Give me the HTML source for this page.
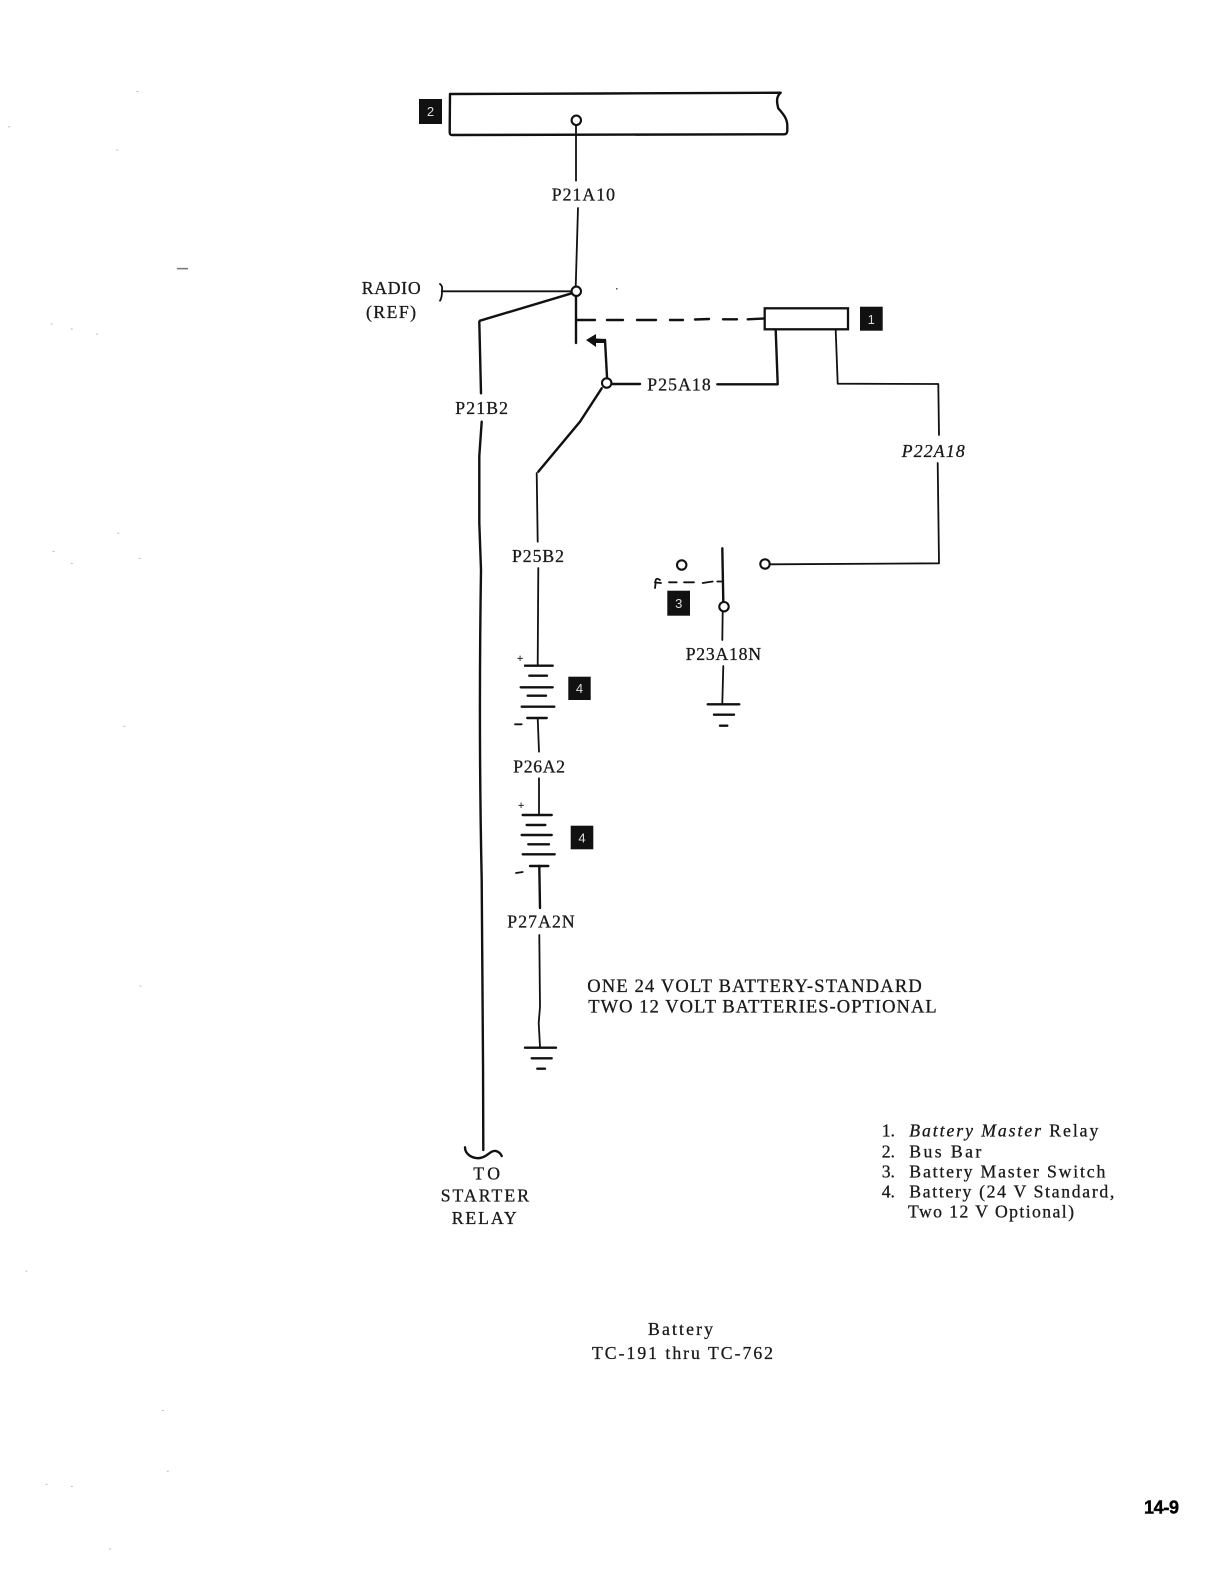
<!DOCTYPE html>
<html>
<head>
<meta charset="utf-8">
<style>
html,body{margin:0;padding:0;background:#fff}
svg{display:block}
text{font-family:"Liberation Serif",serif;font-size:17.7px;fill:#1a1a1a;stroke:#1a1a1a;stroke-width:.3px}
.w{fill:none;stroke:#111;stroke-width:1.8;stroke-linecap:round;stroke-linejoin:round}
.t{stroke-width:2.4}
.c{fill:#fff;stroke:#111;stroke-width:2.1}
.b{fill:#111}
.n{fill:#ddd;stroke:none;font-size:13px;font-family:"Liberation Sans",sans-serif;text-anchor:middle}
.m{font-size:18.5px}
</style>
</head>
<body>
<svg width="1220" height="1584" viewBox="0 0 1220 1584" xmlns="http://www.w3.org/2000/svg">
<!-- bus bar -->
<path class="w t" d="M450 94 L600 93.500 L780.700 92.700 C777 96 776 100 778.300 108.300 C783 114 787.300 118 787.300 126 L787.300 131 C787 133.500 786 134.300 784 134.300 L452 135 C450 135 449.700 134 449.700 132 Z"/>
<rect class="b" x="419" y="99" width="23" height="25"/><text class="n" x="430.500" y="116">2</text>
<path class="w" d="M576 125 L576 180.700 M578 208 L575.700 287"/>
<circle class="c" cx="576.300" cy="120.300" r="4.700"/>
<text x="551.700" y="200.700" textLength="63.300">P21A10</text>

<!-- radio -->
<text x="361.700" y="294" textLength="59">RADIO</text>
<text x="366" y="318" textLength="50">(REF)</text>
<path class="w" d="M440 284 C443 286 442 289 442 291 C442 294 442 298 440 300.700 M441.700 291.300 L571.700 291.300"/>
<path class="w t" d="M571.700 293.300 L480 320.700"/>
<path class="w t" d="M479.300 321.700 L481 393.300 M481.700 421.700 L479.300 456 L479.300 523 L481 570 C479 700 480 800 481.700 880 C482 1000 483.500 1060 483.300 1150"/>
<circle class="c" cx="576.300" cy="291.300" r="4.700"/>
<path class="w t" d="M576 296 L576 343"/>
<path class="w t" d="M576 320 L595 320 M607 320 L623 320 M637 320 L656 320 M670 320 L683 320 M695 319.500 L709 319 M723 319.300 L737 319.300 M747.700 319.300 L764 318.500"/>
<rect x="616" y="288" width="1.500" height="1.500" fill="#555"/>

<!-- relay -->
<rect x="764.700" y="308.300" width="83.300" height="21" fill="#fff" stroke="#111" stroke-width="2.300"/>
<rect class="b" x="860" y="306.700" width="22.700" height="24"/><text class="n" x="871.300" y="324">1</text>

<!-- contact arrow -->
<path class="b" d="M586 340 L596 334 L596 338.500 L606 339 L606 343 L596 343 L596 347 Z"/>
<path class="w t" d="M605 340 L607 377"/>
<circle class="c" cx="606.700" cy="383" r="4.700"/>
<path class="w t" d="M612 384 L640 384 M717.300 384.300 L777.700 384.300 L775.700 330"/>
<text x="647.300" y="390.700" textLength="63.400">P25A18</text>
<path class="w" d="M835.700 330 L837.700 383.700 L938.300 384 L939 435 M937.700 463 L939 563.300 L771 564.300"/>
<text x="901.700" y="457" textLength="63" font-style="italic">P22A18</text>
<circle class="c" cx="765" cy="564" r="4.700"/>

<!-- P21B2 label -->
<text x="455.300" y="414" textLength="52.700">P21B2</text>

<!-- P25B2 -->
<path class="w t" d="M601.700 388.300 L580 421.700 L538.300 471.700"/>
<path class="w" d="M536.700 473 L537.700 541.700 M538.300 568 L537.700 665"/>
<text x="512" y="562" textLength="52">P25B2</text>

<!-- battery 1 -->
<text x="517" y="662" style="font-size:11px">+</text>
<path class="w t" d="M525 665.700 L552.700 665.700 M529.300 675.700 L547 675.700 M520.700 687.300 L552.700 687.300 M527.700 695.700 L546 695.700 M521.700 706.700 L554.300 706.700 M527.300 718 L546.700 718"/>
<path class="w" d="M537.700 718 L539 751.700"/>
<path class="w" d="M515 724.300 L521.700 724.300"/>
<rect class="b" x="568.300" y="676.700" width="22.400" height="23.300"/><text class="n" x="579.500" y="693">4</text>
<text x="513.300" y="772.300" textLength="51.700">P26A2</text>

<!-- battery 2 -->
<path class="w" d="M539 778.300 L539 815"/>
<text x="518" y="809" style="font-size:11px">+</text>
<path class="w t" d="M522.700 815 L551.700 815 M526.700 825 L545.300 825 M521.700 835 L551.700 835 M528.300 844.300 L549 844.300 M522.700 854.300 L554.700 854.300 M530 866 L548.300 866"/>
<rect class="b" x="570.700" y="825.700" width="22.600" height="23.600"/><text class="n" x="582" y="842.500">4</text>
<path class="w" d="M516 873 L522.700 872"/>
<path class="w t" d="M539.300 866 L540 908"/>
<text x="507.300" y="927.700" textLength="67.400">P27A2N</text>
<path class="w" d="M539.300 935 L540 1006.700 L538.700 1023 L540 1046.700"/>

<!-- ground -->
<path class="w t" d="M525 1047.700 L556 1047.700 M531.700 1058.300 L551.700 1058.300 M537.300 1068.700 L545 1068.700"/>

<!-- note -->
<text class="m" x="587.300" y="992" textLength="334.400">ONE 24 VOLT BATTERY-STANDARD</text>
<text class="m" x="588.300" y="1012.500" textLength="348.400">TWO 12 VOLT BATTERIES-OPTIONAL</text>

<!-- switch -->
<circle class="c" cx="681.700" cy="565" r="4.700"/>
<path class="w t" d="M722.300 548.300 L723.300 601.700"/>
<path class="w" d="M660 580 C656 577 655 580 655.500 584 L655 588 M655 582.500 L661 583 M669 582.300 L676.700 582.300 M684 582.300 L694 582.300 M702.700 583 L712.700 581.500 M717.300 581.500 L722 581.500"/>
<rect class="b" x="667.300" y="590.700" width="22.700" height="25"/><text class="n" x="678.700" y="608">3</text>
<circle class="c" cx="724" cy="606.700" r="4.700"/>
<path class="w" d="M722.700 611.500 L722.300 640 M723.300 666 L722.300 703"/>
<text x="685.700" y="660" textLength="75.300">P23A18N</text>
<path class="w t" d="M707.700 704.300 L739.300 704.300 M714 714.700 L734 714.700 M720 725.700 L727.300 725.700"/>

<!-- to starter -->
<path class="w t" d="M465 1147.300 C465 1154 472 1159 480 1158 C488 1157 490 1150 496 1151 C499 1152 501 1154 501.700 1156"/>
<text x="473.300" y="1179.300" textLength="26.700">TO</text>
<text x="440.700" y="1201.700" textLength="88.300">STARTER</text>
<text x="451.700" y="1224" textLength="65">RELAY</text>

<!-- legend -->
<text x="881.700" y="1136.700">1.</text><text x="909.300" y="1136.700" textLength="189"><tspan font-style="italic">Battery Master</tspan> Relay</text>
<text x="881.700" y="1157.300">2.</text><text x="909.300" y="1157.300" textLength="72">Bus Bar</text>
<text x="881.700" y="1177.700">3.</text><text x="909.300" y="1177.700" textLength="196">Battery Master Switch</text>
<text x="881.700" y="1197.700">4.</text><text x="909.300" y="1197.700" textLength="205">Battery (24 V Standard,</text>
<text x="908" y="1217.500" textLength="166">Two 12 V Optional)</text>

<!-- caption -->
<text x="648" y="1335" textLength="65">Battery</text>
<text x="592" y="1359" textLength="181">TC-191 thru TC-762</text>

<text x="1144" y="1513.300" style="font-family:'Liberation Sans',sans-serif;font-size:18px;font-weight:bold;stroke-width:.4px;fill:#000;stroke:#000" textLength="35">14-9</text>

<!-- specks -->
<g fill="#bbb" transform="scale(1.0108)">
<rect x="175" y="265" width="11" height="1.500" fill="#777"/>
<rect x="52" y="545" width="2" height="1"/><rect x="137" y="552" width="2" height="1"/><rect x="70" y="557" width="2" height="1"/>
<rect x="122" y="718" width="2" height="1"/><rect x="138" y="975" width="2" height="1"/><rect x="116" y="527" width="2" height="1"/>
<rect x="135" y="90" width="2" height="1"/><rect x="115" y="148" width="2" height="1"/><rect x="8" y="125" width="2" height="1"/>
<rect x="50" y="320" width="2" height="1"/><rect x="70" y="325" width="2" height="1"/><rect x="95" y="330" width="2" height="1"/>
<rect x="165" y="1455" width="2" height="1"/><rect x="70" y="1470" width="2" height="1"/><rect x="108" y="1532" width="2" height="1"/>
<rect x="160" y="1395" width="2" height="1"/><rect x="25" y="1257" width="2" height="1"/><rect x="45" y="1468" width="2" height="1"/>
</g>
</svg>
</body>
</html>
